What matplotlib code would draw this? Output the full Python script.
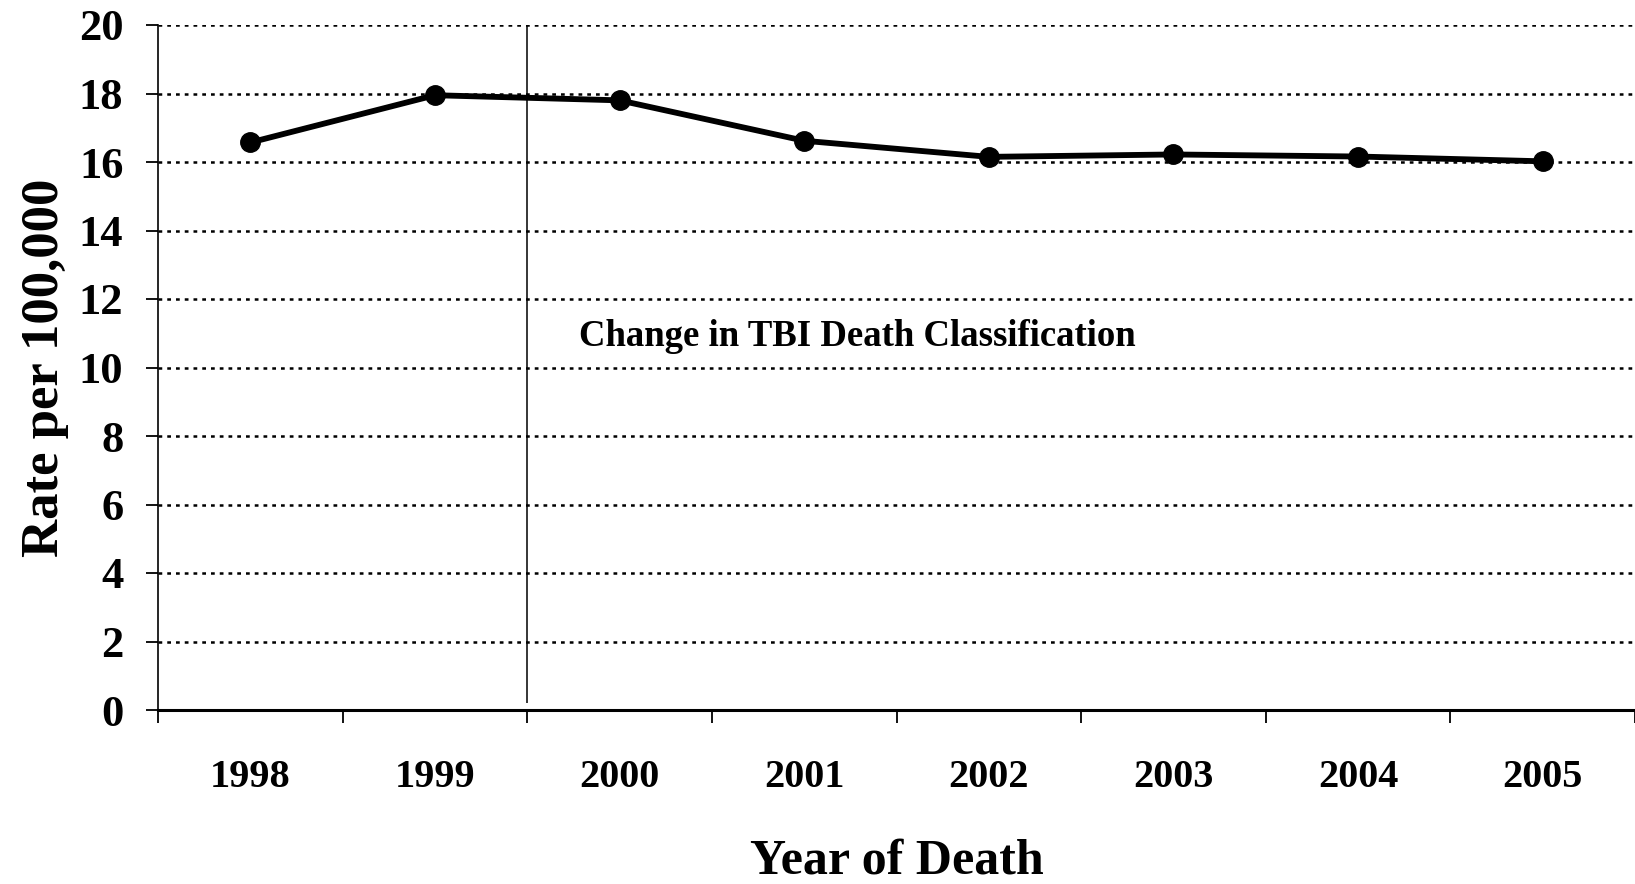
import numpy as np
import matplotlib
matplotlib.use("Agg")
import matplotlib.pyplot as plt
from matplotlib.ticker import MultipleLocator

# values
years = ["1998", "1999", "2000", "2001", "2002", "2003", "2004", "2005"]
rates = [16.57, 17.95, 17.8, 16.62, 16.15, 16.22, 16.16, 16.02]
y_ticks = [0, 2, 4, 6, 8, 10, 12, 14, 16, 18, 20]
note = "Change in TBI Death Classification"

plt.rcParams['font.family'] = ['Liberation Serif', 'DejaVu Serif']
plt.rcParams['font.weight'] = 'bold'

fig = plt.figure(figsize=(16.35, 8.84), dpi=100)
ax = fig.add_axes([158/1635, 1 - 710/884, 1 - 158/1635, (710 - 25)/884])

x = np.arange(len(years))
ax.plot(x, rates, color='black', lw=4.2, marker='o', markersize=14, zorder=5, clip_on=False)

# dotted horizontal grid
for v in y_ticks[1:]:
    ax.axhline(v, color='black', lw=1.8, linestyle=(0, (1.5, 2.0)), zorder=1)

# classification change marker between 1999 and 2000
ax.vlines(1.5, 0.2, 20, color='black', lw=1.1, zorder=2)
ax.text(1.78, 10.9, note, fontsize=26.5, fontweight='bold', va='center', ha='left')

ax.set_xlim(-0.5, len(years) - 0.5)
ax.set_ylim(0, 20)
ax.set_xticks(x)
ax.set_xticklabels(years)
ax.xaxis.set_minor_locator(MultipleLocator(1, offset=0.5))
ax.set_yticks(y_ticks)

ax.tick_params(axis='x', which='major', length=0, pad=35, labelsize=29)
ax.tick_params(axis='x', which='minor', length=9, width=1.3, direction='out')
ax.tick_params(axis='y', length=9, width=1.3, direction='out', pad=16, labelsize=32)

for s in ['top', 'right']:
    ax.spines[s].set_visible(False)
ax.spines['left'].set_linewidth(1.2)
ax.spines['bottom'].set_linewidth(2.2)

ax.set_xlabel("Year of Death", fontsize=36, fontweight='bold', labelpad=31)
ax.set_ylabel("Rate per 100,000", fontsize=38, fontweight='bold', labelpad=7)

fig.savefig("out.png", dpi=100)
plt.close(fig)
